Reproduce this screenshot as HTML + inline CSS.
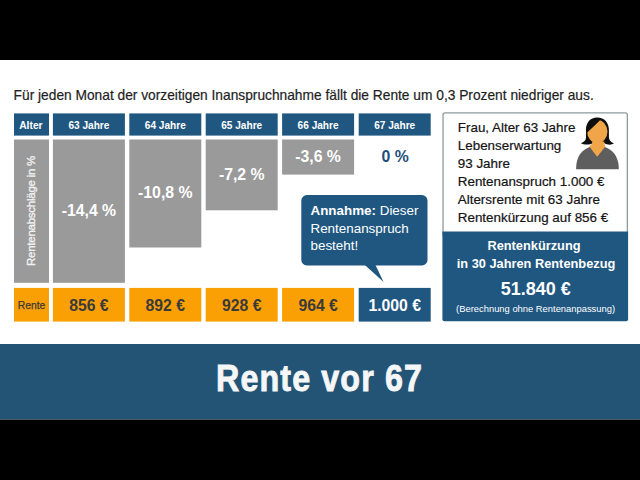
<!DOCTYPE html>
<html><head><meta charset="utf-8"><style>
html,body{margin:0;padding:0;width:640px;height:480px;overflow:hidden;background:#fff;}
body{position:relative;font-family:"Liberation Sans",sans-serif;}
</style></head><body>
<svg style="position:absolute;left:0;top:0" width="640" height="480"><rect x="0" y="0" width="640.00" height="60.00" fill="#000"/>
<rect x="0" y="344" width="640.00" height="75.60" fill="#245475"/>
<rect x="0" y="419.6" width="640.00" height="60.40" fill="#000"/>
<rect x="14" y="113.4" width="35.00" height="22.20" fill="#205781"/>
<rect x="52.9" y="113.4" width="72.00" height="22.20" fill="#205781"/>
<rect x="129.3" y="113.4" width="72.00" height="22.20" fill="#205781"/>
<rect x="205.7" y="113.4" width="72.00" height="22.20" fill="#205781"/>
<rect x="282.1" y="113.4" width="72.00" height="22.20" fill="#205781"/>
<rect x="358.7" y="113.4" width="72.00" height="22.20" fill="#205781"/>
<rect x="14" y="139.5" width="35.00" height="143.30" fill="#9A9A9A"/>
<rect x="52.9" y="139.5" width="72.00" height="143.30" fill="#9A9A9A"/>
<rect x="129.3" y="139.5" width="72.00" height="108.00" fill="#9A9A9A"/>
<rect x="205.7" y="139.5" width="72.00" height="70.80" fill="#9A9A9A"/>
<rect x="282.1" y="139.5" width="72.00" height="35.10" fill="#9A9A9A"/>
<rect x="14" y="287.9" width="35.00" height="33.70" fill="#FAA005"/>
<rect x="52.9" y="287.9" width="72.00" height="33.70" fill="#FAA005"/>
<rect x="129.3" y="287.9" width="72.00" height="33.70" fill="#FAA005"/>
<rect x="205.7" y="287.9" width="72.00" height="33.70" fill="#FAA005"/>
<rect x="282.1" y="287.9" width="72.00" height="33.70" fill="#FAA005"/>
<rect x="358.7" y="287.9" width="72.00" height="33.70" fill="#205781"/>
<rect x="301.3" y="195.1" width="126.2" height="70.3" rx="5.5" fill="#205781"/><polygon points="364.3,264.5 375.2,264.5 383.6,281.9" fill="#205781"/>
<rect x="443.05" y="112.85" width="184.3" height="124" rx="2" fill="#fff" stroke="#8C9A9E" stroke-width="1.3"/>
<path d="M442.4,231.5 H628.1 V319.3 Q628.1,321.3 626.1,321.3 H444.4 Q442.4,321.3 442.4,319.3 Z" fill="#205781"/></svg>
<div style="position:absolute;left:13.6px;top:89.15px;font-size:13.76px;line-height:13.76px;font-weight:400;color:#1E1E1E;white-space:pre;-webkit-text-stroke:0.2px #1E1E1E">Für jeden Monat der vorzeitigen Inanspruchnahme fällt die Rente um 0,3 Prozent niedriger aus.</div>
<div style="position:absolute;left:-269.1px;top:121.28px;width:600px;text-align:center;font-size:10.3px;line-height:10.3px;font-weight:700;color:#fff;white-space:pre;">Alter</div>
<div style="position:absolute;left:-211.1px;top:121.45px;width:600px;text-align:center;font-size:10.1px;line-height:10.1px;font-weight:700;color:#fff;white-space:pre;">63 Jahre</div>
<div style="position:absolute;left:-134.7px;top:121.45px;width:600px;text-align:center;font-size:10.1px;line-height:10.1px;font-weight:700;color:#fff;white-space:pre;">64 Jahre</div>
<div style="position:absolute;left:-58.30000000000001px;top:121.45px;width:600px;text-align:center;font-size:10.1px;line-height:10.1px;font-weight:700;color:#fff;white-space:pre;">65 Jahre</div>
<div style="position:absolute;left:18.100000000000023px;top:121.45px;width:600px;text-align:center;font-size:10.1px;line-height:10.1px;font-weight:700;color:#fff;white-space:pre;">66 Jahre</div>
<div style="position:absolute;left:94.69999999999999px;top:121.45px;width:600px;text-align:center;font-size:10.1px;line-height:10.1px;font-weight:700;color:#fff;white-space:pre;">67 Jahre</div>
<div style="position:absolute;left:-211.1px;top:203.43px;width:600px;text-align:center;font-size:15.8px;line-height:15.8px;font-weight:700;color:#fff;white-space:pre;">-14,4 %</div>
<div style="position:absolute;left:-134.7px;top:184.73px;width:600px;text-align:center;font-size:15.8px;line-height:15.8px;font-weight:700;color:#fff;white-space:pre;">-10,8 %</div>
<div style="position:absolute;left:-58.30000000000001px;top:167.43px;width:600px;text-align:center;font-size:15.8px;line-height:15.8px;font-weight:700;color:#fff;white-space:pre;">-7,2 %</div>
<div style="position:absolute;left:18.100000000000023px;top:148.63px;width:600px;text-align:center;font-size:15.8px;line-height:15.8px;font-weight:700;color:#fff;white-space:pre;">-3,6 %</div>
<div style="position:absolute;left:95.19999999999999px;top:148.63px;width:600px;text-align:center;font-size:15.8px;line-height:15.8px;font-weight:700;color:#1F4E79;white-space:pre;">0 %</div>
<div style="position:absolute;left:30.9px;top:211.4px;width:0;height:0;"><div style="position:absolute;left:-100px;top:-6px;width:200px;text-align:center;font-size:11.5px;line-height:12px;letter-spacing:-0.25px;color:#F2F2F2;-webkit-text-stroke:0.3px #F2F2F2;transform:rotate(-90deg);white-space:pre">Rentenabschläge in %</div></div>
<div style="position:absolute;left:-268.4px;top:301.38px;width:600px;text-align:center;font-size:10.3px;line-height:10.3px;font-weight:400;color:#3A3A3A;white-space:pre;-webkit-text-stroke:0.25px #3A3A3A">Rente</div>
<div style="position:absolute;left:-211.1px;top:298.17px;width:600px;text-align:center;font-size:15.75px;line-height:15.75px;font-weight:700;color:#3A3A3A;white-space:pre;">856 €</div>
<div style="position:absolute;left:-134.7px;top:298.17px;width:600px;text-align:center;font-size:15.75px;line-height:15.75px;font-weight:700;color:#3A3A3A;white-space:pre;">892 €</div>
<div style="position:absolute;left:-58.30000000000001px;top:298.17px;width:600px;text-align:center;font-size:15.75px;line-height:15.75px;font-weight:700;color:#3A3A3A;white-space:pre;">928 €</div>
<div style="position:absolute;left:18.100000000000023px;top:298.17px;width:600px;text-align:center;font-size:15.75px;line-height:15.75px;font-weight:700;color:#3A3A3A;white-space:pre;">964 €</div>
<div style="position:absolute;left:94.69999999999999px;top:298.17px;width:600px;text-align:center;font-size:15.75px;line-height:15.75px;font-weight:700;color:#fff;white-space:pre;">1.000 €</div>
<div style="position:absolute;left:310.5px;top:204.16px;font-size:13.4px;line-height:13.4px;font-weight:700;color:#fff;white-space:pre;">Annahme:<span style="font-weight:400"> Dieser</span></div>
<div style="position:absolute;left:310.5px;top:221.66px;font-size:13.4px;line-height:13.4px;font-weight:400;color:#fff;white-space:pre;">Rentenanspruch</div>
<div style="position:absolute;left:310.5px;top:238.66px;font-size:13.4px;line-height:13.4px;font-weight:400;color:#fff;white-space:pre;">besteht!</div>
<div style="position:absolute;left:457.8px;top:120.96px;font-size:13.4px;line-height:13.4px;font-weight:400;color:#141414;white-space:pre;-webkit-text-stroke:0.2px #141414">Frau, Alter 63 Jahre</div>
<div style="position:absolute;left:457.8px;top:138.96px;font-size:13.4px;line-height:13.4px;font-weight:400;color:#141414;white-space:pre;-webkit-text-stroke:0.2px #141414">Lebenserwartung</div>
<div style="position:absolute;left:457.8px;top:156.96px;font-size:13.4px;line-height:13.4px;font-weight:400;color:#141414;white-space:pre;-webkit-text-stroke:0.2px #141414">93 Jahre</div>
<div style="position:absolute;left:457.8px;top:174.96px;font-size:13.4px;line-height:13.4px;font-weight:400;color:#141414;white-space:pre;-webkit-text-stroke:0.2px #141414">Rentenanspruch 1.000 €</div>
<div style="position:absolute;left:457.8px;top:192.96px;font-size:13.4px;line-height:13.4px;font-weight:400;color:#141414;white-space:pre;-webkit-text-stroke:0.2px #141414">Altersrente mit 63 Jahre</div>
<div style="position:absolute;left:457.8px;top:210.96px;font-size:13.4px;line-height:13.4px;font-weight:400;color:#141414;white-space:pre;-webkit-text-stroke:0.2px #141414">Rentenkürzung auf 856 €</div>
<div style="position:absolute;left:234px;top:240.26px;width:600px;text-align:center;font-size:12.8px;line-height:12.8px;font-weight:700;color:#fff;white-space:pre;">Rentenkürzung</div>
<div style="position:absolute;left:236px;top:257.66px;width:600px;text-align:center;font-size:12.8px;line-height:12.8px;font-weight:700;color:#fff;white-space:pre;">in 30 Jahren Rentenbezug</div>
<div style="position:absolute;left:235.79999999999995px;top:279.66px;width:600px;text-align:center;font-size:18px;line-height:18px;font-weight:700;color:#fff;white-space:pre;">51.840 €</div>
<div style="position:absolute;left:235.60000000000002px;top:303.54px;width:600px;text-align:center;font-size:9.4px;line-height:9.4px;font-weight:400;color:#fff;white-space:pre;">(Berechnung ohne Rentenanpassung)</div>
<svg style="position:absolute;left:0;top:0" width="640" height="480">
<path d="M576.1,169.2 C576.1,156 582,147 597.25,145.5 C612.5,147 618.8,156 618.8,169.2 Z" fill="#5E5E5E"/>
<path d="M597.25,117.6 C590,117.6 586,123 586,130 L586,137.5 C586,140.5 584,142 580.8,143.2 C584,145.2 590,145 593,143 L604,143 C607,145 611,145.3 614,143.6 C610.5,142 608.9,140 608.9,137 L608.9,130 C608.9,123 604.5,117.6 597.25,117.6 Z" fill="#0E0E0E"/>
<path d="M592.3,141.5 L604.3,141.5 C604.3,144 604.8,145.5 605.5,146.2 C602.5,150 600,153.5 597.2,156.8 C594.5,153.5 592,150 589.3,146.2 C590.8,145.5 592.3,144 592.3,141.5 Z" fill="#F0A648"/>
<ellipse cx="597.3" cy="131.6" rx="10.2" ry="11.6" fill="#F0A648"/>
<path d="M586.6,133 C586.6,125 590,119.3 597.5,118.6 C600,118.6 600.5,119.5 599.5,120.8 C596,124.5 591.5,128.5 587,132.8 Z" fill="#0E0E0E"/>
</svg>
<div style="position:absolute;left:0;top:0;width:640px;height:480px;pointer-events:none"><div style="position:absolute;left:216.3px;top:358px;font-size:37.5px;line-height:40px;font-weight:700;color:#F4F6F8;-webkit-text-stroke:0.9px #F4F6F8;letter-spacing:1.3px;white-space:pre;transform-origin:0 0;transform:scaleX(0.86)">Rente vor 67</div></div>
</body></html>
